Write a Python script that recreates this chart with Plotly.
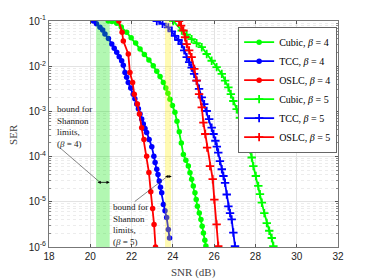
import plotly.graph_objects as go

# ---- data ----
cubic4_snr = [20.87, 21.05, 21.28, 21.5, 21.76, 21.98, 22.2, 22.41, 22.62, 22.84, 23.05, 23.22, 23.38,
              23.54, 23.66, 23.76, 23.86, 23.98, 24.1, 24.2, 24.31, 24.41, 24.51, 24.63, 24.75, 24.83,
              24.91, 24.99, 25.07, 25.13, 25.19, 25.28, 25.36, 25.42, 25.48, 25.55, 25.6]
cubic4_ser = [0.1, 0.0977, 0.0891, 0.0741, 0.0562, 0.0427, 0.0324, 0.024, 0.0182, 0.0138, 0.0102,
              0.00776, 0.00589, 0.00437, 0.00331, 0.00251, 0.00186, 0.00135, 0.000955, 0.000603,
              0.000355, 0.0002, 0.000112, 8.3e-5, 6.17e-5, 4.37e-5, 3.16e-5, 2.24e-5, 1.58e-5,
              1.12e-5, 7.94e-6, 5.62e-6, 4.07e-6, 2.88e-6, 2.04e-6, 1.41e-6, 1.05e-6]

tcc4_snr = [20.15, 20.3, 20.47, 20.6, 20.71, 20.88, 21.04, 21.16, 21.28, 21.4, 21.52, 21.6, 21.68,
            21.76, 21.84, 21.96, 22.08, 22.16, 22.25, 22.33, 22.41, 22.49, 22.57, 22.65, 22.73,
            22.85, 22.98, 23.08, 23.14, 23.22, 23.28, 23.34, 23.4, 23.46, 23.54, 23.62, 23.7,
            23.78, 23.84]
tcc4_ser = [0.1, 0.087, 0.0724, 0.063, 0.0513, 0.041, 0.0309, 0.025, 0.0204, 0.0162, 0.0132,
            0.0105, 0.00724, 0.0057, 0.00437, 0.0033, 0.0024, 0.0019, 0.00145, 0.00115, 0.000871,
            0.00068, 0.000525, 0.00042, 0.00034, 0.00024, 0.000166, 0.000102, 7.4e-5, 5.25e-5,
            4.0e-5, 2.88e-5, 2.1e-5, 1.58e-5, 8.71e-6, 6.3e-6, 4.47e-6, 2.45e-6, 1.58e-6]

oslc4_snr = [21.38, 21.54, 21.6, 21.84, 21.92, 22.05, 22.13, 22.28, 22.38, 22.49, 22.6, 22.73,
             22.84, 22.93, 23.02, 23.09, 23.16]
oslc4_ser = [0.1, 0.0562, 0.0363, 0.0186, 0.00724, 0.00437, 0.0024, 0.00145, 0.000871, 0.000437,
             0.00024, 0.000102, 4.47e-5, 1.66e-5, 7.08e-6, 3.16e-6, 1.0e-6]

cubic5_snr = [24.02, 24.43, 24.67, 24.91, 25.15, 25.4, 25.64, 25.88, 26.12, 26.37, 26.53, 26.69,
              26.81, 26.93, 27.09, 27.25, 27.38, 27.5, 27.62, 27.74, 27.82, 27.9, 28.02, 28.14,
              28.22, 28.31, 28.43, 28.55, 28.67, 28.79, 28.87]
cubic5_ser = [0.1, 0.0617, 0.0501, 0.0398, 0.0324, 0.0263, 0.0186, 0.0132, 0.00955, 0.00676,
              0.00479, 0.00339, 0.0024, 0.0017, 0.00112, 0.000724, 0.000513, 0.000372, 0.000234,
              0.000145, 9.55e-5, 6.17e-5, 3.72e-5, 2.24e-5, 1.48e-5, 9.55e-6, 5.62e-6, 3.39e-6,
              2.29e-6, 1.58e-6, 1.05e-6]

tcc5_snr = [23.22, 23.5, 23.78, 23.95, 24.1, 24.27, 24.43, 24.55, 24.67, 24.79, 24.91, 25.03,
            25.15, 25.27, 25.4, 25.52, 25.64, 25.76, 25.88, 25.97, 26.06, 26.13, 26.2, 26.28,
            26.37, 26.45, 26.53, 26.61, 26.69, 26.77, 26.85, 26.93, 27.01]
tcc5_ser = [0.1, 0.087, 0.0724, 0.0589, 0.0468, 0.038, 0.0309, 0.0224, 0.0158, 0.0123, 0.00933,
            0.00676, 0.00479, 0.00316, 0.00204, 0.00145, 0.00102, 0.000676, 0.000437, 0.000316,
            0.000224, 0.000166, 0.000123, 7.94e-5, 5.25e-5, 3.72e-5, 2.63e-5, 1.45e-5, 7.94e-6,
            5.62e-6, 4.07e-6, 2.09e-6, 1.05e-6]

oslc5_snr = [24.3, 24.4, 24.51, 24.59, 24.67, 24.79, 24.91, 25.04, 25.15, 25.27, 25.4, 25.48,
             25.57, 25.66, 25.8, 25.93, 26.01, 26.12, 26.2]
oslc5_ser = [0.1, 0.0794, 0.0617, 0.0437, 0.0309, 0.0224, 0.0158, 0.00871, 0.00479, 0.0024,
             0.00123, 0.000562, 0.000316, 0.000158, 6.17e-5, 3.16e-5, 1.12e-5, 3.16e-6, 1.05e-6]

bound4 = [20.28, 20.94]   # Shannon bound band, beta = 4
bound5 = [23.62, 23.91]   # Shannon bound band, beta = 5

x_ticks = [18, 20, 22, 24, 26, 28, 30, 32]
y_tickvals = [1e-6, 1e-5, 1e-4, 1e-3, 1e-2, 1e-1]
y_ticktext = ["10<sup>-6</sup>", "10<sup>-5</sup>", "10<sup>-4</sup>",
              "10<sup>-3</sup>", "10<sup>-2</sup>", "10<sup>-1</sup>"]

series = [
    ("Cubic, <i>β</i> = 4", cubic4_snr, cubic4_ser, "#00ff00", "circle"),
    ("TCC, <i>β</i> = 4", tcc4_snr, tcc4_ser, "#0000ff", "circle"),
    ("OSLC, <i>β</i> = 4", oslc4_snr, oslc4_ser, "#ff0000", "circle"),
    ("Cubic, <i>β</i> = 5", cubic5_snr, cubic5_ser, "#00ff00", "cross-thin"),
    ("TCC, <i>β</i> = 5", tcc5_snr, tcc5_ser, "#0000ff", "cross-thin"),
    ("OSLC, <i>β</i> = 5", oslc5_snr, oslc5_ser, "#ff0000", "cross-thin"),
]

fig = go.Figure()
for name, xs, ys, col, sym in series:
    if sym == "circle":
        marker = dict(symbol="circle", size=5.5, color=col, line=dict(width=0))
    else:
        marker = dict(symbol="cross-thin", size=6, color=col, line=dict(width=1.8, color=col))
    fig.add_trace(go.Scatter(x=xs, y=ys, name=name, mode="lines+markers",
                             line=dict(color=col, width=1.8), marker=marker))

# Shannon bound bands (drawn above curves, semi-transparent)
fig.add_shape(type="rect", xref="x", yref="paper", x0=bound4[0], x1=bound4[1], y0=0, y1=1,
              fillcolor="rgba(0,230,0,0.3)", line=dict(width=0), layer="above")
fig.add_shape(type="rect", xref="x", yref="paper", x0=bound5[0], x1=bound5[1], y0=0, y1=1,
              fillcolor="rgba(255,240,0,0.3)", line=dict(width=0), layer="above")

serif = "Liberation Serif, DejaVu Serif, serif"
sans = "Liberation Sans, Arial, sans-serif"

# double-headed arrows across the bands
fig.add_annotation(x=bound4[1], y=-4.57, ax=bound4[0], ay=-4.57, xref="x", yref="y",
                   axref="x", ayref="y", text="", showarrow=True, arrowside="end+start",
                   arrowhead=2, arrowsize=0.8, arrowwidth=0.8, arrowcolor="black")
fig.add_annotation(x=bound5[1] + 0.04, y=-4.44, ax=bound5[0] - 0.07, ay=-4.44, xref="x", yref="y",
                   axref="x", ayref="y", text="", showarrow=True, arrowside="end+start",
                   arrowhead=2, arrowsize=0.8, arrowwidth=0.8, arrowcolor="black")
# leader lines
fig.add_annotation(x=20.47, y=-4.57, ax=18.44, ay=-3.77, xref="x", yref="y", axref="x", ayref="y",
                   text="", showarrow=True, arrowhead=0, arrowwidth=0.6, arrowcolor="#333")
fig.add_annotation(x=23.70, y=-4.45, ax=22.08, ay=-5.02, xref="x", yref="y", axref="x", ayref="y",
                   text="", showarrow=True, arrowhead=0, arrowwidth=0.6, arrowcolor="#333")
# labels
fig.add_annotation(x=18.3, y=-2.8, xref="x", yref="y", xanchor="left", yanchor="top",
                   text="bound for<br>Shannon<br>limits,<br>(<i>β</i> = 4)", showarrow=False,
                   align="left", font=dict(family=serif, size=9, color="#222"))
fig.add_annotation(x=21.0, y=-4.95, xref="x", yref="y", xanchor="left", yanchor="top",
                   text="bound for<br>Shannon<br>limits,<br>(<i>β</i> = 5)", showarrow=False,
                   align="left", font=dict(family=serif, size=9, color="#222"))
# axis titles
fig.add_annotation(x=0.5, y=-0.075, xref="paper", yref="paper", yanchor="top", showarrow=False,
                   text="SNR (dB)", font=dict(family=serif, size=11, color="#444"))
fig.add_annotation(x=-0.125, y=0.5, xref="paper", yref="paper", xanchor="center", showarrow=False,
                   text="SER", textangle=-90, font=dict(family=serif, size=11, color="#444"))

fig.update_layout(
    width=366, height=272,
    margin=dict(l=41, r=36, t=13, b=33, autoexpand=False),
    paper_bgcolor="white", plot_bgcolor="white",
    showlegend=True,
    legend=dict(x=0.997, y=0.975, xanchor="right", yanchor="top",
                bgcolor="white", bordercolor="#666", borderwidth=1,
                font=dict(family=serif, size=10, color="black"),
                tracegroupgap=0, itemwidth=30),
    xaxis=dict(range=[18, 32], tickvals=x_ticks, ticks="inside", ticklen=3, automargin=False,
               tickcolor="#555", showline=True, linecolor="#777", linewidth=1, mirror="ticks",
               showgrid=True, gridcolor="#e3e3e3", gridwidth=1, zeroline=False,
               tickfont=dict(family=sans, size=10, color="#222")),
    yaxis=dict(type="log", range=[-6, -1], tickvals=y_tickvals, ticktext=y_ticktext,
               automargin=False,
               ticks="inside", ticklen=3, tickcolor="#555", showline=True, linecolor="#777",
               linewidth=1, mirror="ticks", showgrid=True, gridcolor="#e3e3e3", zeroline=False,
               tickfont=dict(family=sans, size=10, color="#222"),
               minor=dict(tickvals=[m * 10.0 ** e for e in range(-6, -1) for m in range(2, 10)],
                          showgrid=True, gridcolor="#ececec", griddash="dot", ticks="inside",
                          ticklen=2, tickcolor="#888")),
)

fig.write_html("out.html")
